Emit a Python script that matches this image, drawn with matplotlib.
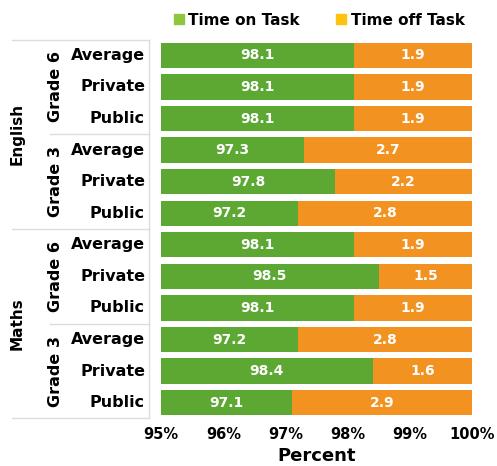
import matplotlib
matplotlib.use("Agg")
import matplotlib.pyplot as plt
import matplotlib.transforms as mtransforms
from matplotlib.lines import Line2D

subjects = ['English', 'Maths']
grades = ['Grade 6', 'Grade 3']
schools = ['Average', 'Private', 'Public']

# rows top to bottom: English G6, English G3, Maths G6, Maths G3
on_task = [98.1, 98.1, 98.1,
           97.3, 97.8, 97.2,
           98.1, 98.5, 98.1,
           97.2, 98.4, 97.1]
off_task = [1.9, 1.9, 1.9,
            2.7, 2.2, 2.8,
            1.9, 1.5, 1.9,
            2.8, 1.6, 2.9]

green = '#5ca833'
orange = '#f29221'
line_col = '#dcdcdc'
plt.rcParams['font.family'] = ['DejaVu Sans']

fig = plt.figure(figsize=(4.97, 4.66), dpi=100)
ax = fig.add_axes([0.324, 0.102, 0.626, 0.813])

n = len(on_task)
y = list(range(n))
xmin = 95
ax.barh(y, [v - xmin for v in on_task], left=xmin, height=0.8, color=green)
ax.barh(y, off_task, left=on_task, height=0.8, color=orange)

for i in range(n):
    ax.text((xmin + on_task[i]) / 2, i, f'{on_task[i]:.1f}', ha='center', va='center',
            color='white', fontsize=10, fontweight='bold')
    ax.text(on_task[i] + off_task[i] / 2, i, f'{off_task[i]:.1f}', ha='center', va='center',
            color='white', fontsize=10, fontweight='bold')

ax.set_xlim(95, 100)
ax.set_ylim(n - 0.5, -0.5)
ax.set_xticks([95, 96, 97, 98, 99, 100])
ax.set_xticklabels(['95%', '96%', '97%', '98%', '99%', '100%'], fontsize=10.5, fontweight='bold')
ax.set_yticks([])
ax.tick_params(axis='x', length=0, pad=6)
ax.set_xlabel('Percent', fontsize=13, fontweight='bold', labelpad=4)
for s in ax.spines.values():
    s.set_visible(False)

# group labels on the left
trans = mtransforms.blended_transform_factory(fig.transFigure, ax.transData)
fx = lambda px: px / 497
for i in range(n):
    ax.text(fx(145), i, schools[i % 3], transform=trans, ha='right', va='center',
            fontsize=11.5, fontweight='bold')
for g in range(4):
    ax.text(fx(55), g * 3 + 1, grades[g % 2], transform=trans, ha='center', va='center',
            rotation=90, fontsize=11.5, fontweight='bold')
for s in range(2):
    ax.text(fx(17), s * 6 + 2.5, subjects[s], transform=trans, ha='center', va='center',
            rotation=90, fontsize=11, fontweight='bold')

# separator lines
for yy in [-0.5, 5.5, 11.5]:
    ax.add_line(Line2D([fx(12), fx(149)], [yy, yy], transform=trans, color=line_col,
                       lw=1, clip_on=False))
for yy in [2.5, 8.5]:
    ax.add_line(Line2D([fx(50), fx(149)], [yy, yy], transform=trans, color=line_col,
                       lw=1, clip_on=False))
ax.add_line(Line2D([fx(149), fx(149)], [-0.5, 11.5], transform=trans, color=line_col,
                   lw=1, clip_on=False))

handles = [Line2D([], [], marker='s', linestyle='', color='#8dc63f', markersize=7),
           Line2D([], [], marker='s', linestyle='', color='#ffc20e', markersize=7)]
fig.legend(handles, ['Time on Task', 'Time off Task'], loc='center', ncol=2,
           bbox_to_anchor=(0.64, 0.957), frameon=False, handletextpad=0.1,
           columnspacing=2.2, handlelength=1, prop={'size': 11, 'weight': 'bold'})

fig.savefig('out.png', dpi=100)
